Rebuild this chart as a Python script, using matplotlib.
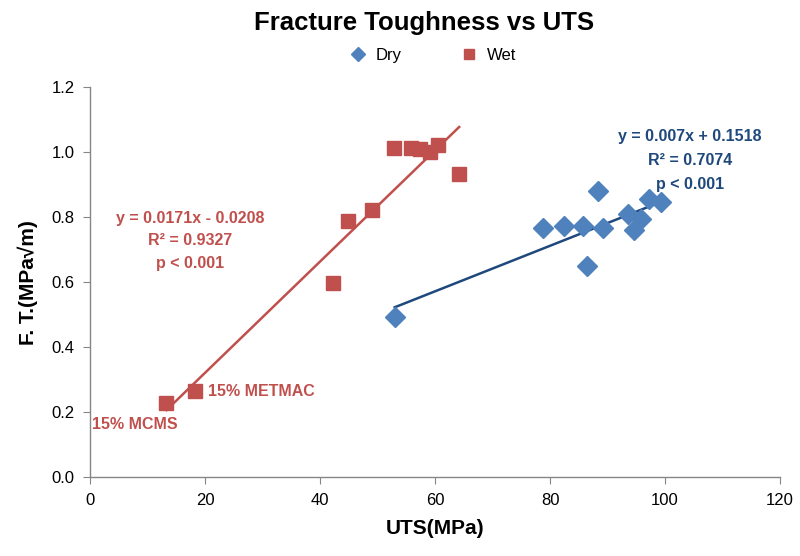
import numpy as np
import matplotlib.pyplot as plt

plt.rcParams['font.family'] = ['Liberation Sans Narrow', 'Liberation Sans', 'DejaVu Sans']

# 数据
dry_uts = [53.0, 78.8, 82.4, 85.7, 86.5, 88.4, 89.3, 93.6, 94.6, 95.8, 97.3, 99.3]
dry_ft = [0.492, 0.768, 0.773, 0.773, 0.650, 0.879, 0.767, 0.811, 0.760, 0.795, 0.857, 0.846]
wet_uts = [13.3, 18.3, 42.3, 44.9, 49.1, 52.8, 55.9, 57.4, 59.1, 60.6, 64.2]
wet_ft = [0.227, 0.264, 0.596, 0.787, 0.823, 1.013, 1.013, 1.010, 0.999, 1.023, 0.933]
dry_fit = [0.007, 0.1518]
wet_fit = [0.0171, -0.0208]
dry_eq = "y = 0.007x + 0.1518\nR² = 0.7074\np < 0.001"
wet_eq = "y = 0.0171x - 0.0208\nR² = 0.9327\np < 0.001"

c_dry = '#4F81BD'
c_wet = '#C0504D'
c_dryline = '#1F497D'

fig = plt.figure(figsize=(8, 5.56), dpi=100)
ax = fig.add_axes([0.1125, 0.1415, 0.8625, 0.702])

ax.plot(dry_uts, dry_ft, 'D', color=c_dry, ms=10, ls='none', label='Dry', zorder=3)
ax.plot(wet_uts, wet_ft, 's', color=c_wet, ms=10, ls='none', label='Wet', zorder=3)

# 趋势线
xd = np.array([min(dry_uts), max(dry_uts)])
ax.plot(xd, dry_fit[0] * xd + dry_fit[1], color=c_dryline, lw=1.8, zorder=2)
xw = np.array([min(wet_uts), max(wet_uts)])
ax.plot(xw, wet_fit[0] * xw + wet_fit[1], color=c_wet, lw=1.8, zorder=2)

ax.text(17.4, 0.727, wet_eq, color=c_wet, fontsize=11.5, fontweight='bold',
        ha='center', va='center', linespacing=1.6)
ax.text(104.3, 0.975, dry_eq, color=c_dryline, fontsize=11.5, fontweight='bold',
        ha='center', va='center', linespacing=1.75)
ax.text(20.5, 0.265, '15% METMAC', color=c_wet, fontsize=11.5, fontweight='bold',
        ha='left', va='center')
ax.text(7.8, 0.163, '15% MCMS', color=c_wet, fontsize=11.5, fontweight='bold',
        ha='center', va='center')

ax.set_xlim(0, 120)
ax.set_ylim(0, 1.2)
ax.set_xticks(range(0, 121, 20))
ax.set_yticks(np.arange(0, 1.21, 0.2))
ax.set_yticklabels(['%.1f' % v for v in np.arange(0, 1.21, 0.2)])
for s in ['top', 'right']:
    ax.spines[s].set_visible(False)
for s in ['left', 'bottom']:
    ax.spines[s].set_color('#868686')
    ax.spines[s].set_linewidth(1.0)
ax.tick_params(direction='out', length=5, color='#868686', labelsize=12, pad=6)

ax.set_xlabel('UTS(MPa)', fontsize=15, fontweight='bold', labelpad=8)
ax.set_ylabel('F. T.(MPa√m)', fontsize=15, fontweight='bold', labelpad=10)
fig.text(0.53, 0.958, 'Fracture Toughness vs UTS', fontsize=18.5, fontweight='bold',
         ha='center', va='center')
fig.legend(loc='center', bbox_to_anchor=(0.536, 0.9), ncol=2, frameon=False,
           fontsize=12, handletextpad=0.1, columnspacing=3, markerscale=0.75)

fig.savefig('out.png', dpi=100)
